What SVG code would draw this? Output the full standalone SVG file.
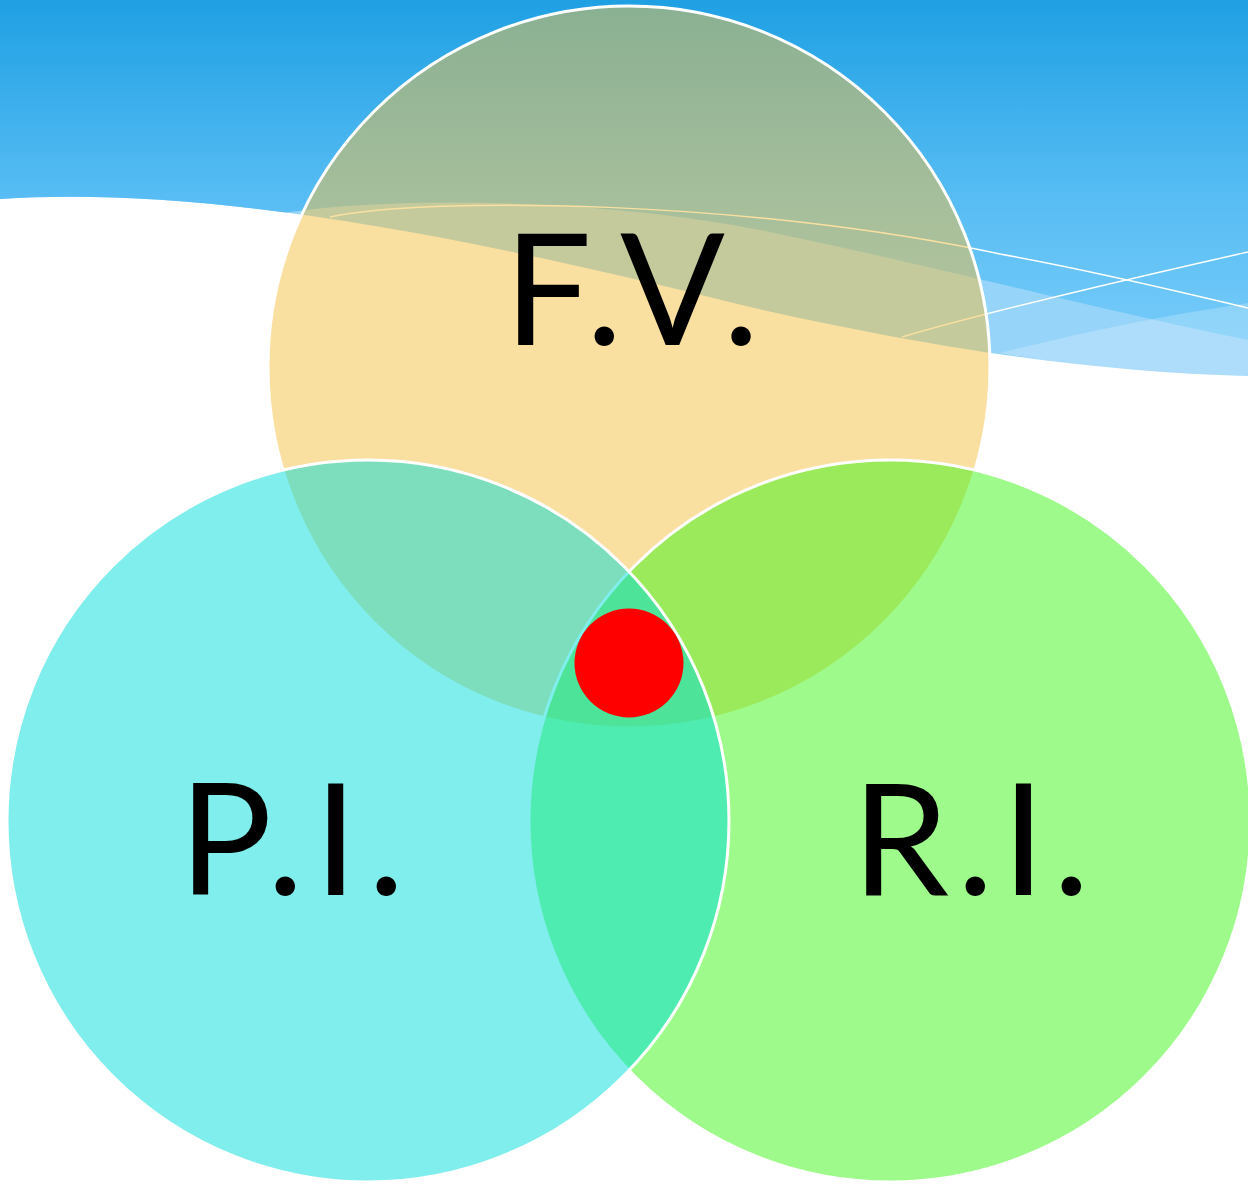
<svg xmlns="http://www.w3.org/2000/svg" width="1248" height="1185" viewBox="0 0 1248 1185">
  <defs>
    <linearGradient id="sky" gradientUnits="userSpaceOnUse" x1="0" y1="0" x2="0" y2="345">
      <stop offset="0" stop-color="#1FA0E3"/>
      <stop offset="0.58" stop-color="#58BDF4"/>
      <stop offset="1" stop-color="#76CBF9"/>
    </linearGradient>
    <style>
      .circle { stroke: #FFFFFF; stroke-width: 3; fill-opacity: 0.5; }
      .label { font-family: "Lato", "Liberation Sans", sans-serif; font-size: 155px; fill: #000000; }
      .wline { fill: none; stroke: #FFFFFF; stroke-width: 1.5; }
    </style>
  </defs>
  <rect x="0" y="0" width="1248" height="1185" fill="#FFFFFF"/>
  <g id="background">
    <path d="M0,0 H1248 V376 C1100,372 950,352 750,307 C450,232 200,186 0,199 Z" fill="#96D4F9"/>
    <path d="M0,0 H1248 V340 C1100,310 900,258 760,230 C620,202 420,194 285.7,212.57 C181.2,198.73 86,193.41 0,199 Z" fill="url(#sky)"/>
    <path d="M1000,353 Q1120,322 1248,303 V376 C1150,373 1070,366 1000,353 Z" fill="#FFFFFF" fill-opacity="0.22"/>
    <path class="wline" d="M330,217 C430,196 750,200 1000,254 C1100,272 1180,292 1248,308"/>
    <path class="wline" d="M902,337 Q1000,308 1248,252"/>
  </g>
  <g id="node-fv">
    <circle class="circle" cx="629" cy="367" r="361" fill="#F3BF41"/>
  </g>
  <g id="node-ri">
    <circle class="circle" cx="890" cy="821" r="361" fill="#3DF515"/>
  </g>
  <g id="node-pi">
    <circle class="circle" cx="368" cy="821" r="361" fill="#00DDDA"/>
  </g>
  <g id="labels">
    <text class="label" x="504" y="345" letter-spacing="9">F.V.</text>
    <text class="label" x="179" y="895" letter-spacing="10.5">P.I.</text>
    <text class="label" x="852" y="895" letter-spacing="8">R.I.</text>
  </g>
  <g id="node-center">
    <circle cx="629" cy="663" r="54.5" fill="#FF0000"/>
  </g>
</svg>
